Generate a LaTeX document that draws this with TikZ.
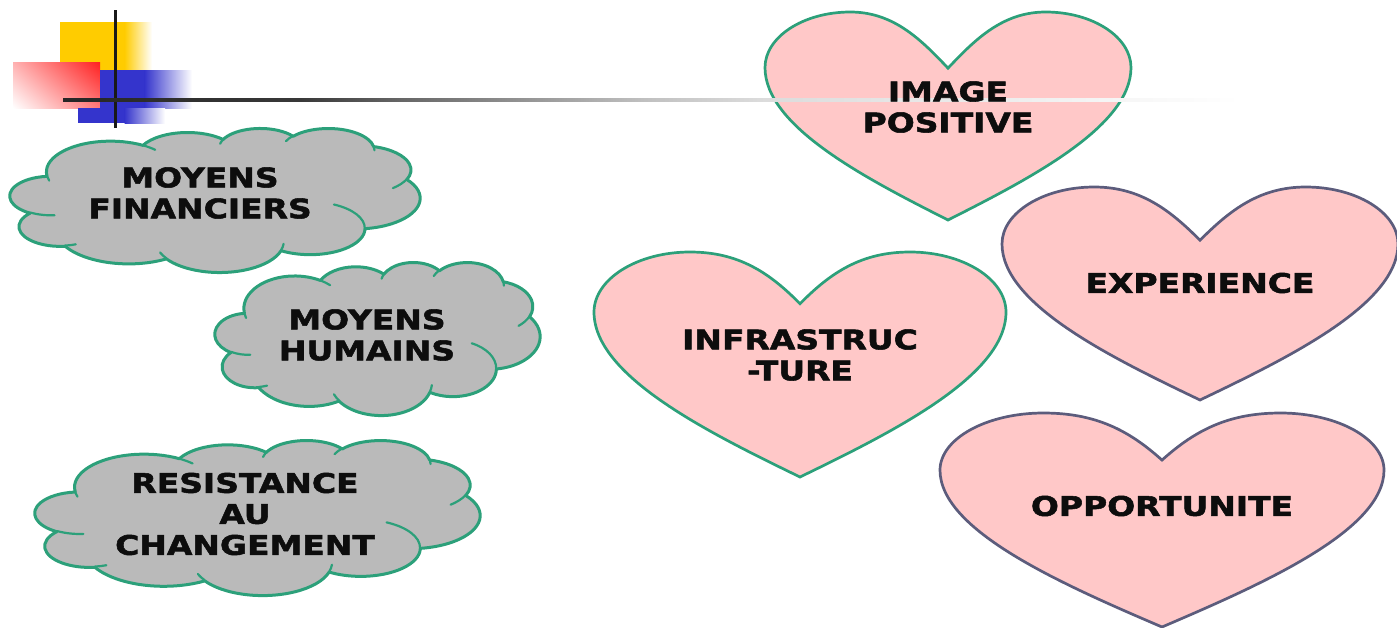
\documentclass[tikz,border=0pt]{standalone}
\usepackage{fontspec}
\setmainfont{DejaVu Sans}[FakeStretch=1.22, BoldFeatures={FakeBold=2}]
\usetikzlibrary{shadings}
\definecolor{cloudfill}{RGB}{186,186,186}
\definecolor{teal}{RGB}{44,160,122}
\definecolor{slate}{RGB}{92,92,124}
\definecolor{pinkfill}{RGB}{255,200,200}
\definecolor{decoyellow}{RGB}{255,204,0}
\definecolor{decored}{RGB}{255,32,32}
\definecolor{decoblue}{RGB}{52,52,204}
\pgfdeclarehorizontalshading{rulefade}{100bp}{color(0bp)=(black!85); color(25bp)=(black!85); color(35bp)=(black!78); color(39.3bp)=(black!60); color(49.6bp)=(black!25); color(54.6bp)=(black!14); color(75bp)=(white); color(100bp)=(white)}
% heart: style, centre x, top y, half width, height, notch depth (fraction)
\newcommand\myheart[6]{%
  \begin{scope}[shift={(#2,#3)}, xscale=#4, yscale=#5]
  \path[#1] (0,#6) .. controls (-0.15,#6-0.14) and (-0.3,0) .. (-0.534,0)
    .. controls (-0.79,0) and (-1,0.12) .. (-1,0.267)
    .. controls (-1,0.55) and (-0.45,0.8) .. (0,1)
    .. controls (0.45,0.8) and (1,0.55) .. (1,0.267)
    .. controls (1,0.12) and (0.79,0) .. (0.534,0)
    .. controls (0.3,0) and (0.15,#6-0.14) .. (0,#6) -- cycle;
  \end{scope}}
% cloud: left, top, x unit, y unit (a 432 x 432 design box)
\newcommand\pptcloud[4]{%
  \begin{scope}[shift={(#1,#2)}, x=#3pt, y=-#4pt]
  \path[cloudbox] (39,143.7)
    arc[start angle=172.26, delta angle=128.11, x radius=67.53, y radius=91.90]
    arc[start angle=-152.02, delta angle=106.57, x radius=53.33, y radius=72.67]
    arc[start angle=-153.49, delta angle=116.17, x radius=43.65, y radius=59.45]
    arc[start angle=-139.72, delta angle=129.51, x radius=48.57, y radius=65.95]
    arc[start angle=-74.77, delta angle=97.98, x radius=53.33, y radius=72.73]
    arc[start angle=-37.52, delta angle=119.38, x radius=67.75, y radius=92.20]
    arc[start angle=0.46, delta angle=121.51, x radius=57.85, y radius=78.67]
    arc[start angle=16.84, delta angle=129.39, x radius=67.52, y radius=92.15]
    arc[start angle=59.00, delta angle=91.19, x radius=77.20, y radius=105.43]
    arc[start angle=83.31, delta angle=139.80, x radius=43.60, y radius=59.18]
    arc[start angle=120.35, delta angle=143.76, x radius=43.45, y radius=59.45]
    -- cycle;
  \path[cloudline]
    (46.93,261.77) arc[start angle=85.55, delta angle=34.80, x radius=43.45, y radius=59.45]
    (69.28,348.99) arc[start angle=68.23, delta angle=15.08, x radius=43.60, y radius=59.18]
    (164.78,390.90) arc[start angle=146.23, delta angle=12.24, x radius=67.52, y radius=92.15]
    (288.27,347.51) arc[start angle=4.74, delta angle=12.10, x radius=67.52, y radius=92.15]
    (341.29,229.54) arc[start angle=-64.02, delta angle=64.48, x radius=57.85, y radius=78.67]
    (417.98,153.54) arc[start angle=23.21, delta angle=26.44, x radius=53.33, y radius=72.73]
    (383.24,54.26) arc[start angle=-10.21, delta angle=11.03, x radius=48.57, y radius=65.95]
    (290.78,39.52) arc[start angle=-156.29, delta angle=16.57, x radius=48.57, y radius=65.95]
    (221.41,47.20) arc[start angle=-167.72, delta angle=14.23, x radius=43.65, y radius=59.45]
    (140.00,51.92) arc[start angle=-59.63, delta angle=13.89, x radius=67.53, y radius=91.90]
    (41.27,157.89) arc[start angle=163.20, delta angle=9.05, x radius=67.53, y radius=91.90];
  \end{scope}}
\tikzset{
  cloudbox/.style={draw=teal, line width=3pt, fill=cloudfill, line join=round},
  cloudline/.style={draw=teal, line width=2.2pt, line cap=round},
  heartg/.style={draw=teal, line width=2.7pt, fill=pinkfill},
  hearts/.style={draw=slate, line width=2.7pt, fill=pinkfill},
  lbl/.style={align=center, inner sep=0pt, text=black!95, font=\fontsize{27}{31}\selectfont\bfseries}
}
\begin{document}
\begin{tikzpicture}[x=1pt,y=-1pt]
\useasboundingbox (0,0) rectangle (1397,627);
% decoration
\fill[decoyellow] (60,22) rectangle (125,70);
\shade[left color=decoyellow, right color=white] (124.5,22) rectangle (152,70);
\shade[upper left=decored!35!white, upper right=decored, lower left=white, lower right=decored!60!white] (13,62) rectangle (100,108);
\fill[decoblue] (100,70) rectangle (145,108);
\shade[left color=decoblue, right color=white] (144.5,70) rectangle (192,108);
\fill[decoblue] (78,108) rectangle (125,123);
\shade[left color=decoblue, right color=white] (124.5,108) rectangle (165,123);
\fill[black!90] (113.5,10) rectangle (116.5,128);
% hearts
\myheart{heartg}{948}{12}{183}{208}{0.27}
\myheart{hearts}{1200}{187}{198}{213}{0.25}
\myheart{heartg}{800}{252}{206}{225}{0.23}
\myheart{hearts}{1162}{413}{222}{214}{0.22}
% horizontal rule
\shade[shading=rulefade] (63,98.6) rectangle (1240,101.4);
% heart labels
\node[lbl] (img) at (948,107) {IMAGE\\POSITIVE};
\node[lbl] (exp) at (1200,283) {EXPERIENCE};
\node[lbl] (infra) at (800,355) {INFRASTRUC\\-TURE};
\node[lbl] (opp) at (1162,506) {OPPORTUNITE};
% clouds
\pptcloud{10}{128}{0.9491}{0.3333}
\node[lbl] (t1) at (200,193) {MOYENS\\FINANCIERS};
\pptcloud{215}{262}{0.7523}{0.3542}
\node[lbl] (t2) at (367,335) {MOYENS\\HUMAINS};
\pptcloud{35}{440}{1.0301}{0.3588}
\node[lbl] (t3) at (245,514) {RESISTANCE\\AU\\CHANGEMENT};
\end{tikzpicture}
\end{document}
